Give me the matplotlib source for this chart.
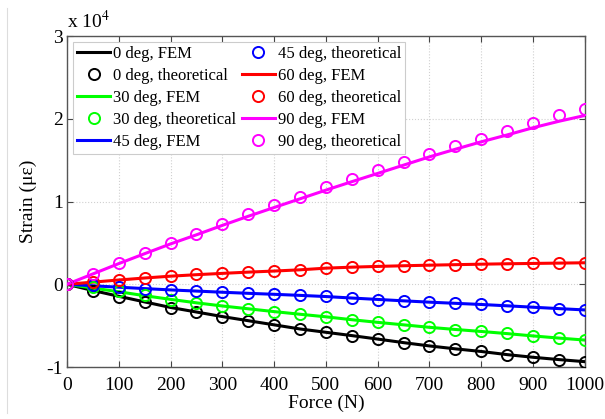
import numpy as np
import matplotlib
matplotlib.use("Agg")
import matplotlib.pyplot as plt
from matplotlib.lines import Line2D

force = list(range(0, 1001, 50))

# strain values in units of 1e4 microstrain
theo_0 = [0, -0.080, -0.150, -0.218, -0.286, -0.339, -0.391, -0.444, -0.492, -0.545, -0.581,
          -0.621, -0.662, -0.710, -0.750, -0.783, -0.811, -0.851, -0.884, -0.912, -0.936]
fem_0 = [0, -0.075, -0.145, -0.213, -0.280, -0.335, -0.390, -0.440, -0.490, -0.540, -0.580,
         -0.620, -0.662, -0.705, -0.745, -0.780, -0.812, -0.850, -0.882, -0.910, -0.935]
theo_30 = [0, -0.036, -0.085, -0.135, -0.186, -0.226, -0.262, -0.294, -0.331, -0.359, -0.391,
           -0.432, -0.460, -0.492, -0.520, -0.549, -0.569, -0.593, -0.625, -0.650, -0.674]
fem_30 = [0, -0.045, -0.090, -0.138, -0.182, -0.224, -0.262, -0.296, -0.330, -0.362, -0.393,
          -0.428, -0.460, -0.490, -0.520, -0.546, -0.570, -0.596, -0.624, -0.650, -0.674]
theo_45 = [0, -0.008, -0.036, -0.056, -0.069, -0.081, -0.097, -0.109, -0.121, -0.133, -0.147,
           -0.169, -0.185, -0.202, -0.218, -0.230, -0.242, -0.258, -0.278, -0.295, -0.315]
fem_45 = [0, -0.018, -0.035, -0.052, -0.068, -0.082, -0.096, -0.109, -0.121, -0.134, -0.148,
          -0.166, -0.183, -0.200, -0.216, -0.230, -0.244, -0.260, -0.277, -0.294, -0.310]
theo_60 = [0, 0.024, 0.052, 0.077, 0.100, 0.121, 0.133, 0.145, 0.157, 0.173, 0.200,
           0.210, 0.218, 0.226, 0.234, 0.238, 0.246, 0.250, 0.254, 0.258, 0.262]
fem_60 = [0, 0.026, 0.052, 0.076, 0.098, 0.116, 0.132, 0.147, 0.160, 0.175, 0.195,
          0.207, 0.216, 0.224, 0.231, 0.237, 0.243, 0.248, 0.252, 0.256, 0.260]
theo_90 = [0, 0.126, 0.254, 0.376, 0.497, 0.610, 0.730, 0.844, 0.953, 1.060, 1.170,
           1.276, 1.377, 1.477, 1.579, 1.671, 1.760, 1.852, 1.950, 2.040, 2.120]
fem_90 = [0, 0.125, 0.250, 0.370, 0.488, 0.598, 0.712, 0.822, 0.928, 1.033, 1.138,
          1.240, 1.340, 1.440, 1.540, 1.632, 1.722, 1.805, 1.892, 1.970, 2.040]

series = [
    ("0 deg", "black", fem_0, theo_0),
    ("30 deg", (0, 1, 0), fem_30, theo_30),
    ("45 deg", "blue", fem_45, theo_45),
    ("60 deg", "red", fem_60, theo_60),
    ("90 deg", "magenta", fem_90, theo_90),
]

plt.rcParams['font.family'] = ['Liberation Serif', 'DejaVu Serif']
plt.rcParams['mathtext.fontset'] = 'stix'

fig = plt.figure(figsize=(6.05, 4.19), dpi=100)
ax = fig.add_axes([0.1107, 0.124, 0.856, 0.79])

for name, col, fem, theo in series:
    ax.plot(force, fem, color=col, lw=2.2, label=f"{name}, FEM", zorder=3)
    ax.plot(force, theo, ls='none', marker='o', ms=8, mfc='none', mec=col, mew=1.4,
            label=f"{name}, theoretical", zorder=4)

ax.set_xlim(0, 1000)
ax.set_ylim(-1, 3)
ax.set_xticks(range(0, 1001, 100))
ax.set_yticks([-1, 0, 1, 2, 3])
ax.set_yticklabels(["-1", "0", "1", "2", "3"])
ax.grid(True, color='#d0d0d0', ls=':', lw=0.8)
ax.tick_params(direction='in', top=True, right=True, labelsize=14, length=4, color='#444444')
ax.tick_params(axis='x', pad=7)
ax.tick_params(axis='y', pad=3)
for s in ax.spines.values():
    s.set_color('#555555')
    s.set_linewidth(1.0)

ax.set_xlabel("Force (N)", fontsize=14, labelpad=1)
ax.set_ylabel("Strain (\u03bc\u03b5)", fontsize=14, labelpad=7)

ax.text(0.0, 1.012, "x 10$^{4}$", transform=ax.transAxes, fontsize=14, ha='left', va='bottom')

leg = ax.legend(ncol=2, loc='upper left', fontsize=12, frameon=True, fancybox=False,
                edgecolor='#cccccc', framealpha=1, borderaxespad=0.35, handlelength=2.0,
                handletextpad=0.15, columnspacing=0.35, labelspacing=0.36, borderpad=0.25)
leg.get_frame().set_linewidth(0.8)

fig.add_artist(Line2D([0.011, 0.011], [0.015, 0.98], transform=fig.transFigure,
                      color='#dddddd', lw=0.8))

fig.savefig("out.png", dpi=100)
